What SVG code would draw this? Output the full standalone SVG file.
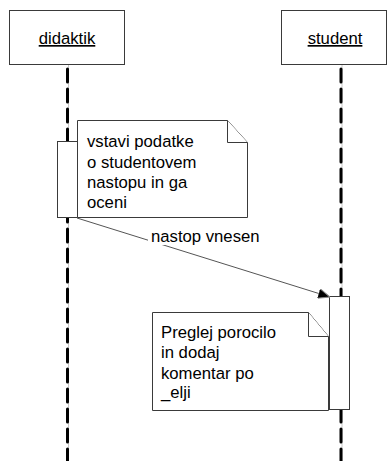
<svg xmlns="http://www.w3.org/2000/svg" width="389" height="461" viewBox="0 0 389 461">
  <style>
    .box { fill: #ffffff; stroke: #3a3a3a; stroke-width: 1; }
    .lbl { font-family: "Liberation Sans", Arial, sans-serif; font-size: 16.7px; fill: #000000; }
    .head { text-decoration: underline; }
    .life-base { stroke: #c8c8c8; stroke-width: 1; }
    .life { stroke: #000000; stroke-width: 3; stroke-dasharray: 13 7; stroke-linecap: round; }
    .msg { stroke: #555555; stroke-width: 1; fill: none; }
  </style>
  <defs>
    <marker id="arrowhead" viewBox="0 0 12 10" refX="12" refY="5" markerWidth="12" markerHeight="10" markerUnits="userSpaceOnUse" orient="auto">
      <path d="M0,0 L12,5 L0,10 Z" fill="#000000" stroke="#888888" stroke-width="1"/>
    </marker>
  </defs>

  <rect width="389" height="461" fill="#ffffff"/>

  <!-- lifelines -->
  <g id="lifelines">
    <line class="life-base" x1="68.5" y1="65" x2="68.5" y2="461"/>
    <line class="life" x1="67.5" y1="69" x2="67.5" y2="461"/>
    <line class="life-base" x1="342" y1="65" x2="342" y2="461"/>
    <line class="life" x1="341" y1="69" x2="341" y2="461"/>
  </g>

  <!-- participant heads -->
  <g id="didaktik">
    <rect class="box" x="9.5" y="10.5" width="115" height="54"/>
    <text class="lbl head" x="67" y="44" text-anchor="middle">didaktik</text>
  </g>
  <g id="student">
    <rect class="box" x="281.5" y="10.5" width="105" height="54"/>
    <text class="lbl head" x="335" y="44" text-anchor="middle">student</text>
  </g>

  <!-- activation bars -->
  <g id="activation-didaktik">
    <rect class="box" x="57.5" y="141.5" width="20" height="76"/>
  </g>
  <g id="activation-student">
    <rect class="box" x="329.5" y="296.5" width="20" height="113"/>
  </g>

  <!-- notes -->
  <g id="note-vstavi">
    <path class="box" d="M77.5,120.5 H227.5 L247.5,142.5 V217.5 H77.5 Z"/>
    <path class="box" d="M227.5,120.5 V142.5 H247.5" fill="none"/>
    <text class="lbl" x="87" y="147">vstavi podatke</text>
    <text class="lbl" x="87" y="167.5">o studentovem</text>
    <text class="lbl" x="87" y="188">nastopu in ga</text>
    <text class="lbl" x="87" y="208">oceni</text>
  </g>
  <g id="note-preglej">
    <path class="box" d="M152.5,312.5 H308.5 L328.5,336.5 V410.5 H152.5 Z"/>
    <path class="box" d="M308.5,312.5 V336.5 H328.5" fill="none"/>
    <text class="lbl" x="161" y="338">Preglej porocilo</text>
    <text class="lbl" x="161" y="358">in dodaj</text>
    <text class="lbl" x="161" y="378.5">komentar po</text>
    <text class="lbl" x="161" y="398">_elji</text>
  </g>

  <!-- messages -->
  <g id="connectors">
    <line class="msg" x1="77" y1="218" x2="330" y2="297" marker-end="url(#arrowhead)"/>
    <rect x="148" y="227" width="118" height="18" fill="#ffffff"/>
    <text class="lbl" x="151" y="242">nastop vnesen</text>
  </g>
</svg>
